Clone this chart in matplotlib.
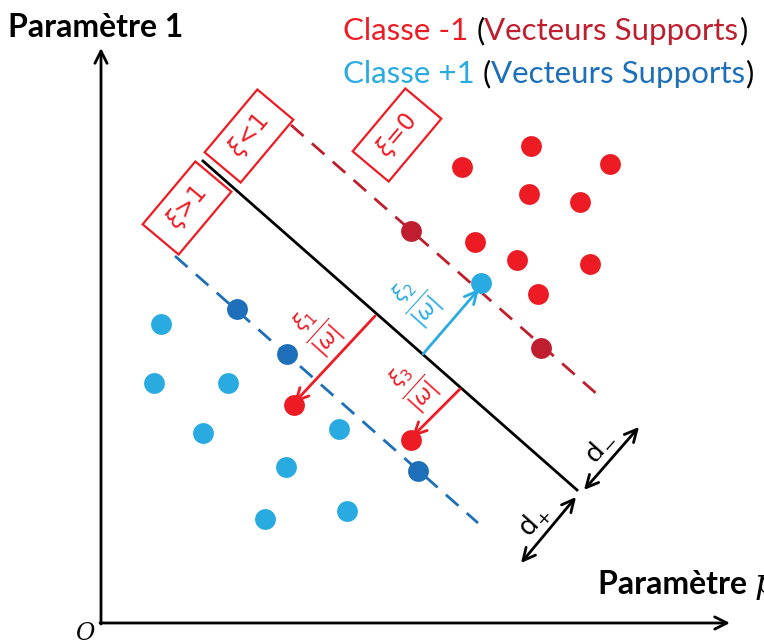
import matplotlib
matplotlib.use('Agg')
import matplotlib.pyplot as plt
from matplotlib.patches import Rectangle

W, H = 764, 644

RED = '#ed1c24'
DARK_RED = '#be1e2d'
LIGHT_BLUE = '#29abe2'
DARK_BLUE = '#1c6fb8'

# points (pixel x, pixel y from top)
red_x = [462, 531, 610, 529, 580, 475, 517, 590, 538]
red_y = [167, 146, 164, 194, 202, 242, 260, 264, 294]
red_sv_x = [411, 541]
red_sv_y = [231, 348]
red_err_x = [294, 411]
red_err_y = [405, 440]

blue_x = [161, 154, 228, 203, 339, 286, 265, 347, 481]
blue_y = [324, 383, 383, 433, 429, 467, 519, 511, 283]
blue_sv_x = [237, 287, 418]
blue_sv_y = [309, 354, 471]

# hyperplane and margins (end points)
hyper = [(203, 161), (577, 490)]
margin_red = [(291, 125), (598, 395)]
margin_blue = [(175, 256), (478, 523)]

# slack arrows: (start, end, label, colour, label position)
slacks = [
    ((375, 316), (294, 403), r'$\frac{\xi_1}{|\omega|}$', RED, (317, 330)),
    ((423, 354), (479, 289), r'$\frac{\xi_2}{|\omega|}$', LIGHT_BLUE, (416, 301)),
    ((460, 389), (412, 437), r'$\frac{\xi_3}{|\omega|}$', RED, (413, 386)),
]

# boxes: centre, label
boxes = [((187, 208), r'$\xi$>1'), ((249, 136), r'$\xi$<1'), ((397, 135), r'$\xi$=0')]


def fy(y):
    return H - y


def main():
    fig = plt.figure(figsize=(W / 100, H / 100), dpi=100)
    ax = fig.add_axes([0, 0, 1, 1])
    ax.set_xlim(0, W)
    ax.set_ylim(0, H)
    ax.axis('off')

    # axes
    ax.annotate('', xy=(101, fy(48)), xytext=(101, fy(624)),
                arrowprops=dict(arrowstyle='->', lw=2, color='black',
                                mutation_scale=22, shrinkA=0, shrinkB=0))
    ax.annotate('', xy=(730, fy(623)), xytext=(100, fy(623)),
                arrowprops=dict(arrowstyle='->', lw=2, color='black',
                                mutation_scale=22, shrinkA=0, shrinkB=0))
    ax.text(85, fy(633), 'O', fontsize=17, style='italic', family='DejaVu Serif',
            ha='center', va='center')
    ax.text(8, fy(27), 'Paramètre 1', fontsize=23, fontweight='bold',
            family='Lato', va='center')
    t = ax.text(598, fy(585), 'Paramètre ', fontsize=23, fontweight='bold',
                family='Lato', va='center')
    ax.annotate('p', xy=(1, 0), xycoords=t, va='bottom', fontsize=24,
                style='italic', family='DejaVu Serif')

    # lines
    ax.plot([p[0] for p in hyper], [fy(p[1]) for p in hyper], color='black', lw=2)
    ax.plot([p[0] for p in margin_red], [fy(p[1]) for p in margin_red],
            color=DARK_RED, lw=2, dashes=(6, 4))
    ax.plot([p[0] for p in margin_blue], [fy(p[1]) for p in margin_blue],
            color=DARK_BLUE, lw=2, dashes=(6, 4))

    # points
    ms = 15
    ax.plot(red_x, [fy(y) for y in red_y], 'o', color=RED, ms=ms, mec='none')
    ax.plot(red_err_x, [fy(y) for y in red_err_y], 'o', color=RED, ms=ms, mec='none')
    ax.plot(red_sv_x, [fy(y) for y in red_sv_y], 'o', color=DARK_RED, ms=ms, mec='none')
    ax.plot(blue_x, [fy(y) for y in blue_y], 'o', color=LIGHT_BLUE, ms=ms, mec='none')
    ax.plot(blue_sv_x, [fy(y) for y in blue_sv_y], 'o', color=DARK_BLUE, ms=ms, mec='none')

    # slack arrows
    for start, end, label, col, lp in slacks:
        ax.annotate('', xy=(end[0], fy(end[1])), xytext=(start[0], fy(start[1])),
                    arrowprops=dict(arrowstyle='->', lw=2, color=col,
                                    mutation_scale=22, shrinkA=0, shrinkB=0))
        ax.text(lp[0], fy(lp[1]), label, color=col, fontsize=22, rotation=48,
                ha='center', va='center', rotation_mode='anchor')

    # margin width arrows
    ax.annotate('', xy=(521, fy(563)), xytext=(576, fy(497)),
                arrowprops=dict(arrowstyle='<->', lw=2, color='black',
                                mutation_scale=22, shrinkA=0, shrinkB=0))
    ax.annotate('', xy=(639, fy(427)), xytext=(584, fy(490)),
                arrowprops=dict(arrowstyle='<->', lw=2, color='black',
                                mutation_scale=22, shrinkA=0, shrinkB=0))
    ax.text(534, fy(521), r'$\mathrm{d}_{+}$', fontsize=19, rotation=48,
            ha='center', va='center', rotation_mode='anchor')
    ax.text(598, fy(446), r'$\mathrm{d}_{-}$', fontsize=19, rotation=48,
            ha='center', va='center', rotation_mode='anchor')

    # slack boxes
    for (cx, cy), label in boxes:
        ax.add_patch(Rectangle((cx - 41, fy(cy) - 23.5), 82, 47, angle=50,
                               rotation_point='center', fill=True, fc='white',
                               ec=RED, lw=1.6, zorder=3))
        ax.text(cx, fy(cy), label, color=RED, fontsize=17, rotation=50,
                ha='center', va='center', rotation_mode='anchor', zorder=4)

    # legend text
    lines = [
        (fy(31), [('Classe -1 ', RED), ('(', 'black'),
                  ('Vecteurs Supports', DARK_RED), (')', 'black')]),
        (fy(74), [('Classe +1 ', LIGHT_BLUE), ('(', 'black'),
                  ('Vecteurs Supports', DARK_BLUE), (')', 'black')]),
    ]
    for y, pieces in lines:
        prev = ax.text(343, y, pieces[0][0], color=pieces[0][1], fontsize=22.5,
                       family='Lato', va='center')
        for txt, col in pieces[1:]:
            prev = ax.annotate(txt, xy=(1, 0), xycoords=prev, va='bottom',
                               color=col, fontsize=22.5, family='Lato')

    fig.savefig('out.png', dpi=100)


if __name__ == '__main__':
    main()
